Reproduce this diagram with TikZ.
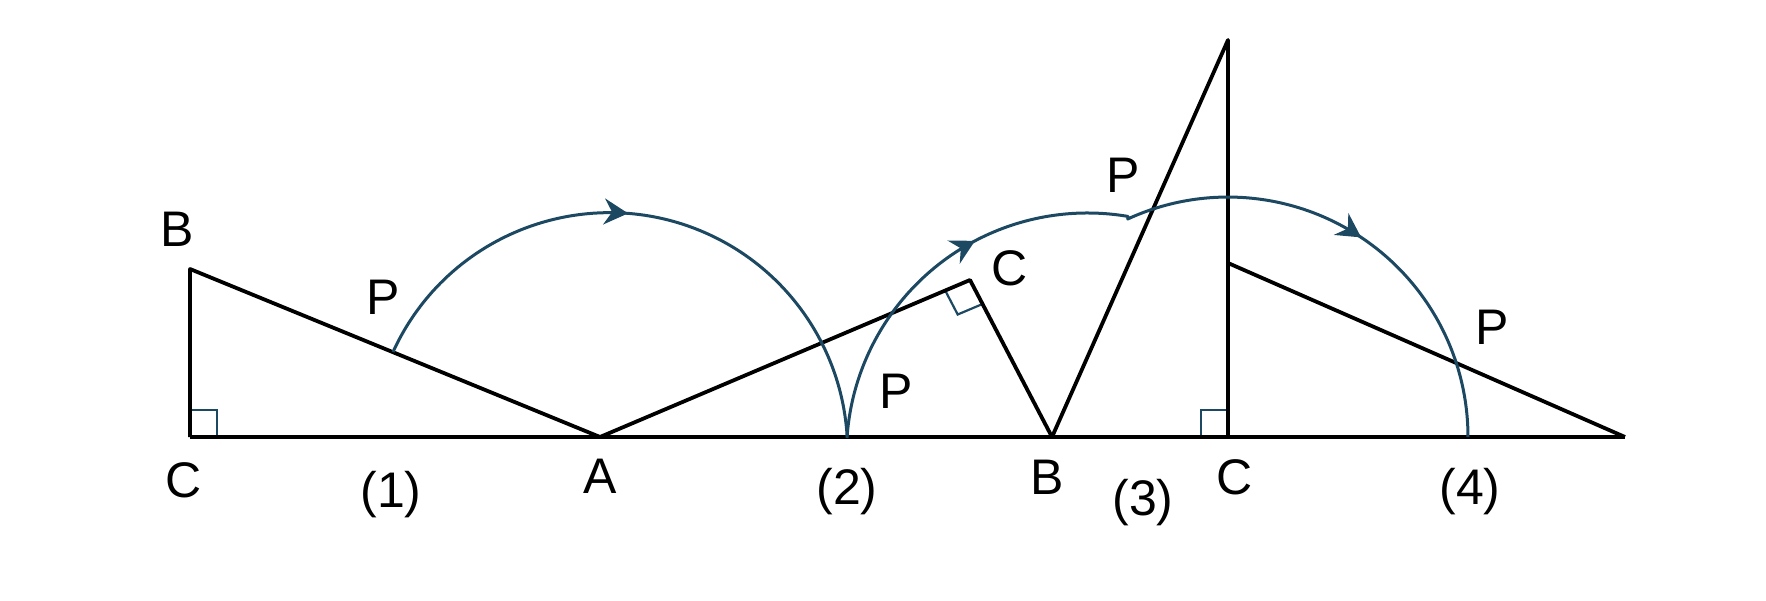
\documentclass[tikz,border=0pt]{standalone}
\usepackage{fontspec}
\setmainfont{Liberation Sans}
\usetikzlibrary{arrows.meta,decorations.markings}
\definecolor{arcblue}{RGB}{28,72,98}
\begin{document}
\begin{tikzpicture}[x=0.5pt,y=-0.5pt,
  tri/.style={line width=1.9pt, line join=round, black},
  locus/.style={line width=1.5pt, arcblue, line join=round},
  ra/.style={line width=1.1pt, arcblue},
  lbl/.style={font=\fontsize{25}{30}\selectfont, inner sep=0pt},
  arrowat/.style={postaction={decorate}, decoration={markings, mark=at position #1 with {\arrow[arcblue]{Stealth[length=12pt,width=13pt,inset=4pt]}}}},
  twoarrows/.style 2 args={postaction={decorate}, decoration={markings,
     mark=at position #1 with {\arrow[arcblue]{Stealth[length=12pt,width=13pt,inset=4pt]}},
     mark=at position #2 with {\arrow[arcblue]{Stealth[length=12pt,width=13pt,inset=4pt]}}}}]
\useasboundingbox (0,0) rectangle (1766,600);

% vertices
\coordinate (C1) at (190,437);
\coordinate (B1) at (190,269);
\coordinate (A) at (600,437);
\coordinate (C2) at (970,280);
\coordinate (B) at (1052,437);
\coordinate (C3) at (1228,437);
\coordinate (A3) at (1228,40);
\coordinate (B4) at (1228,263);
\coordinate (A4) at (1625,437);

% right-angle marks
\draw[ra] (190,410) -- (217,410) -- (217,437);
\draw[ra] (945.2,290.5) -- (957.7,314.5) -- (982.5,304);
\draw[ra] (1228,410) -- (1201,410) -- (1201,437);

% base line and triangles
\draw[tri] (C1) -- (A4);
\draw[tri] (A) -- (B1) -- (C1);
\draw[tri] (A) -- (C2) -- (B);
\draw[tri] (B) -- (A3) -- (C3);
\draw[tri] (B4) -- (A4);

% path of P
\coordinate (P1) at (393,352);
\coordinate (Q1) at (847,438);
\draw[locus, arrowat=0.46] (P1) arc[start angle=-155.5, end angle=-3.4, radius=238];
\draw[locus, twoarrows={0.277}{0.734}] (Q1) arc[start angle=-176.2, end angle=-80.3, radius=241]
   -- (1127.7,219) arc[start angle=-114.7, end angle=0, radius=240];

% labels
\node[lbl] (lB1) at (177,229) {B};
\node[lbl] (lP1) at (383,297) {P};
\node[lbl] (lC1) at (184,480) {C};
\node[lbl] (l1) at (391,495) {(1)};
\node[lbl] (lA) at (600,476) {A};
\node[lbl] (l2) at (847,492) {(2)};
\node[lbl] (lP2) at (896,391) {P};
\node[lbl] (lC2) at (1010,268) {C};
\node[lbl] (lB) at (1047,477) {B};
\node[lbl] (l3) at (1143,503) {(3)};
\node[lbl] (lC3) at (1235,477) {C};
\node[lbl] (lP3) at (1123,175) {P};
\node[lbl] (l4) at (1470,492) {(4)};
\node[lbl] (lP4) at (1492,327) {P};
\end{tikzpicture}
\end{document}
